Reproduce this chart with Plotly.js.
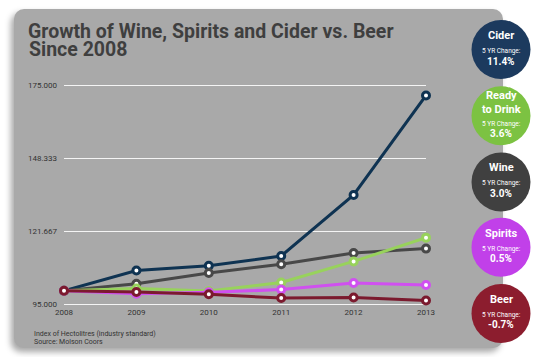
<!DOCTYPE html>
<html>
<head>
<meta charset="utf-8">
<script src="https://cdn.plot.ly/plotly-3.0.1.min.js"></script>
<style>
  html, body { margin: 0; padding: 0; background: #ffffff; }
  #wrap { position: relative; width: 545px; height: 357px; overflow: hidden; }
  #panel { position: absolute; left: 14px; top: 9px; width: 489px; height: 339px;
           background: #a9a9a9; border-radius: 10px;
           box-shadow: -3px 4px 6px rgba(0,0,0,0.35); }
  #chart { position: absolute; left: 0; top: 0; width: 545px; height: 357px; }
</style>
</head>
<body>
<div id="wrap">
  <div id="panel"></div>
  <div id="chart"></div>
</div>
<script>
// ---- data ----
const years = [2008, 2009, 2010, 2011, 2012, 2013];
const cider   = [100, 107.4, 109.1, 112.7, 135.0, 171.4];
const wine    = [100, 102.5, 106.5, 109.7, 113.8, 115.4];
const rtd     = [100, 100.8,  99.9, 103.0, 110.7, 119.4];
const spirits = [100,  98.9,  99.4, 100.4, 102.8, 102.1];
const beer    = [100,  99.5,  98.7,  97.3,  97.5,  96.4];
const seriesNames = ['Cider', 'Wine', 'Ready to Drink', 'Spirits', 'Beer'];
const yTickVals = [95, 121.6667, 148.3333, 175];
const yTickText = ['95.000', '121.667', '148.333', '175.000'];
const badgeNames = ['Cider', 'Ready<br>to Drink', 'Wine', 'Spirits', 'Beer'];
const badgeChanges = ['11.4%', '3.6%', '3.0%', '0.5%', '-0.7%'];
const titleLine1 = 'Growth of Wine, Spirits and Cider vs. Beer';
const titleLine2 = 'Since 2008';
const noteLines = ['Index of Hectolitres (industry standard)', 'Source: Molson Coors'];

// ---- styles ----
const lineColors = ['#0f3352', '#484848', '#98d25c', '#d050f0', '#7b1a2e'];
const badgeColors = ['#1c3a5e', '#7cc242', '#404040', '#c140e9', '#8c1d2e'];
const badgeCY = [50, 116, 182, 247, 313];
const seriesData = [cider, wine, rtd, spirits, beer];

// pixel frame: 2008 at x=64, 2013 at x=426; 95 at y=304, 175 at y=86
const X0 = 64, X1 = 426, Y95 = 304, Y175 = 86;
const pxPerUnit = (Y95 - Y175) / 80;
const yPad = 0.6;
const T = Y175 - yPad * pxPerUnit, B = Y95 + yPad * pxPerUnit;
const px2x = p => (p - X0) / (X1 - X0);
const py2y = p => (B - p) / (B - T);

const traces = seriesData.map((vals, i) => ({
  x: years, y: vals, name: seriesNames[i], type: 'scatter', mode: 'lines+markers',
  line: { color: lineColors[i], width: 3 },
  marker: { size: 7, color: '#ffffff', line: { color: lineColors[i], width: 3 } },
  cliponaxis: false, hoverinfo: 'x+y+name'
}));

const shapes = [];
const annotations = [];
const BX = 501;
badgeCY.forEach((cy, i) => {
  shapes.push({
    type: 'circle', xref: 'paper', yref: 'paper',
    xsizemode: 'pixel', ysizemode: 'pixel',
    xanchor: px2x(BX), yanchor: py2y(cy),
    x0: -29.5, x1: 29.5, y0: -29.5, y1: 29.5,
    fillcolor: badgeColors[i], line: { width: 0 }, layer: 'above'
  });
  const two = badgeNames[i].indexOf('<br>') >= 0;
  annotations.push({
    xref: 'paper', yref: 'paper', x: px2x(BX), y: py2y(two ? cy - 13 : cy - 14),
    text: '<b>' + badgeNames[i] + '</b>', showarrow: false,
    font: { family: 'Roboto, sans-serif', size: 11, color: '#ffffff' },
    xanchor: 'center', yanchor: 'middle', borderpad: 0
  });
  annotations.push({
    xref: 'paper', yref: 'paper', x: px2x(BX), y: py2y(two ? cy + 8.5 : cy + 1.5),
    text: '5 YR Change:', showarrow: false,
    font: { family: 'Roboto, sans-serif', size: 6.5, color: '#ffffff' },
    xanchor: 'center', yanchor: 'middle', borderpad: 0
  });
  annotations.push({
    xref: 'paper', yref: 'paper', x: px2x(BX), y: py2y(two ? cy + 17.5 : cy + 11.5),
    text: '<b>' + badgeChanges[i] + '</b>', showarrow: false,
    font: { family: 'Roboto, sans-serif', size: 10, color: '#ffffff' },
    xanchor: 'center', yanchor: 'middle', borderpad: 0
  });
});
noteLines.forEach((t, i) => {
  annotations.push({
    xref: 'paper', yref: 'paper', x: px2x(33), y: py2y(334 + i * 8),
    text: t, showarrow: false,
    font: { family: 'Roboto, sans-serif', size: 7, color: '#333333' },
    xanchor: 'left', yanchor: 'middle', borderpad: 0
  });
});
annotations.push({
  xref: 'paper', yref: 'paper', x: px2x(28), y: py2y(49.5),
  text: '<b>' + titleLine2 + '</b>', showarrow: false,
  font: { family: 'Roboto, sans-serif', size: 19.5, color: '#3f3f3f' },
  xanchor: 'left', yanchor: 'middle', borderpad: 0
});

const layout = {
  width: 545, height: 357,
  margin: { l: X0, r: 545 - X1, t: T, b: 357 - B, pad: 0 },
  paper_bgcolor: 'rgba(0,0,0,0)', plot_bgcolor: 'rgba(0,0,0,0)',
  showlegend: false,
  title: {
    text: '<b>' + titleLine1 + '</b>',
    font: { family: 'Roboto, sans-serif', size: 19.5, color: '#3f3f3f' },
    xref: 'container', yref: 'container', x: 28 / 545, xanchor: 'left',
    y: 1 - 31.5 / 357, yanchor: 'middle'
  },
  xaxis: {
    range: [2008, 2013], tickvals: years, ticktext: years.map(String),
    showgrid: false, zeroline: false, showline: false, ticks: '',
    tickfont: { family: 'Roboto, sans-serif', size: 8, color: '#333333' },
    ticklabelstandoff: 0
  },
  yaxis: {
    range: [95 - yPad, 175 + yPad], tickvals: yTickVals, ticktext: yTickText,
    showgrid: true, gridcolor: '#f4f4f4', gridwidth: 1.2, zeroline: false, showline: false, ticks: '',
    tickfont: { family: 'Roboto, sans-serif', size: 8, color: '#333333' },
    ticklabelstandoff: 6
  },
  shapes: shapes,
  annotations: annotations
};

Plotly.newPlot('chart', traces, layout, { displayModeBar: false, staticPlot: true });
</script>
</body>
</html>
